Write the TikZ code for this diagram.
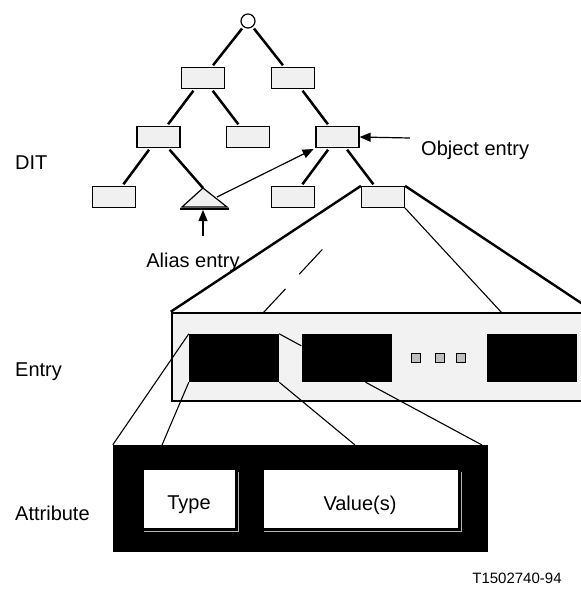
\documentclass[tikz,border=0pt]{standalone}
\usepackage{fontspec}
\setmainfont{Liberation Sans}
\usetikzlibrary{arrows.meta,calc}

\begin{document}
\begin{tikzpicture}[x=1pt,y=-1pt,
    box/.style={draw, fill=gray!12, line width=1.2pt, minimum width=43pt, minimum height=21pt, inner sep=0pt},
    branch/.style={line width=2.5pt, shorten <=2pt, shorten >=2pt},
    blackbox/.style={fill=black, minimum width=90pt, minimum height=48pt, inner sep=0pt},
    fan/.style={line width=1.1pt},
    ptr/.style={line width=1.2pt, -{Triangle[length=11pt,width=9pt]}},
    lbl/.style={font=\fontsize{20}{24}\selectfont, inner sep=0pt}]
  \useasboundingbox (0,0) rectangle (581,590);
  % DIT
  \node[circle, draw, fill=white, line width=1.2pt, minimum size=14pt, inner sep=0pt] (root) at (248,21) {};
  \node[box] (L) at (203,78) {};
  \node[box] (R) at (293,78) {};
  \node[box] (LL) at (158.5,137) {};
  \node[box] (LR) at (248,137) {};
  \node[box] (obj) at (337.5,137) {};
  \node[box] (LLL) at (114,197) {};
  \node[box] (objL) at (293,197) {};
  \node[box] (objR) at (383,197) {};
  \coordinate (alias) at (203,188);
  \coordinate (aliasR) at (217,197);
  \coordinate (aliasB) at (203,210);
  \draw[fill=gray!12, line width=1.2pt] (182,207) -- (alias) -- (227,207) -- cycle;
  \draw[line width=2pt] (180,209) -- (229,209);
  \draw[branch] (root) -- (L);
  \draw[branch] (root) -- (R);
  \draw[branch] (L) -- (LL);
  \draw[branch] (L) -- (LR);
  \draw[branch] (R) -- (obj);
  \draw[branch] (LL) -- (LLL);
  \draw[branch, shorten >=0pt] (LL) -- (alias);
  \draw[branch] (obj) -- (objL);
  \draw[branch] (obj) -- (objR);
  \draw[ptr, shorten >=2pt] (aliasR) -- (obj.south west);
  \node[lbl, anchor=west] (DIT) at (15,163) {DIT};
  \node[lbl, anchor=west] (objtxt) at (421,150) {Object entry};
  \coordinate (objarr) at (410,138);
  \draw[ptr] (objarr) -- (obj.east);
  \node[lbl] (aliastxt) at (193,262) {Alias entry};
  \coordinate (aliasarr) at (203,236);
  \draw[ptr] (aliasarr) -- (aliasB);
  % Entry
  \node[draw, fill=gray!10, line width=2.5pt, minimum width=421pt, minimum height=88pt, inner sep=0pt] (entry) at (382.5,357) {};
  \node[blackbox] (eb1) at (234,358) {};
  \node[blackbox] (eb2) at (346.5,358) {};
  \node[blackbox] (eb3) at (531.5,358) {};
  \foreach \x in {416,439.5,461}
    \node[draw, fill=gray!50, line width=0.8pt, minimum size=9pt, inner sep=0pt] at (\x,358) {};
  \node[lbl, anchor=west] (entrytxt) at (15,372) {Entry};
  \coordinate (e1) at (263,313);
  \coordinate (e2) at (502,313);
  \draw[line width=2.4pt] (objR.north west) -- (entry.north west);
  \draw[line width=2.4pt] (objR.north east) -- (entry.north east);
  \draw[fan] (objR.south east) -- (e2);
  \draw[fan, dash pattern=on 33pt off 20pt on 34pt off 100pt] (e1) -- (objR.south west);
  \draw[fan] (eb1.north east) -- ($(eb2.north west)+(0,12)$);
  % Attribute
  \node[fill=black, minimum width=375pt, minimum height=107pt, inner sep=0pt] (attr) at (300.5,498.5) {};
  \node[fill=white, minimum width=91pt, minimum height=58pt, inner sep=0pt] (type) at (189.5,499) {};
  \node[fill=white, minimum width=194pt, minimum height=58pt, inner sep=0pt] (value) at (361,499) {};
  \draw[gray!60, line width=0.8pt] ($(type.south west)+(0,3)$) -- ($(type.south east)+(3,3)$) -- ($(type.north east)+(3,2)$);
  \draw[gray!60, line width=0.8pt] ($(value.south west)+(0,3)$) -- ($(value.south east)+(3,3)$) -- ($(value.north east)+(3,2)$);
  \node[lbl] (typetxt) at (189,505) {Type};
  \node[lbl] (valuetxt) at (360,505) {Value(s)};
  \node[lbl, anchor=west] (attrtxt) at (15,513) {Attribute};
  \coordinate (a1) at (162,445);
  \coordinate (a2) at (355,445);
  \coordinate (a3) at (482,445);
  \draw[fan] (eb1.north west) -- (attr.north west);
  \draw[fan] (eb1.south west) -- (a1);
  \draw[fan] (eb1.south east) -- (a2);
  \draw[fan] ($(eb2.south)+(19,0)$) -- (a3);
  \node[font=\fontsize{15}{18}\selectfont, inner sep=0pt] (fig) at (517,578) {T1502740-94};
\end{tikzpicture}
\end{document}
